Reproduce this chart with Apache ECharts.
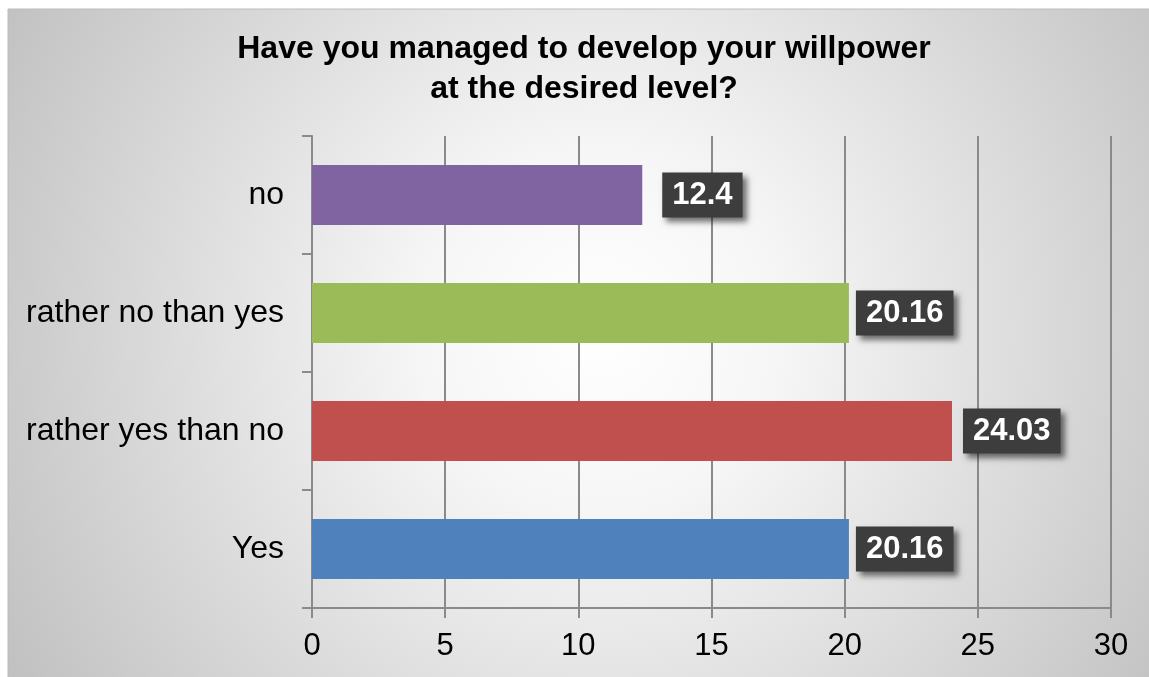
<!DOCTYPE html>
<html>
<head>
<meta charset="utf-8">
<script src="https://cdn.jsdelivr.net/npm/echarts@6/dist/echarts.min.js"></script>
<style>
html,body{margin:0;padding:0;background:#ffffff;}
#chart{width:1149px;height:677px;}
</style>
</head>
<body>
<div id="chart"></div>
<script>
const titleText = "Have you managed to develop your willpower\nat the desired level?";
const categories = ["Yes", "rather yes than no", "rather no than yes", "no"];
const values = [20.16, 24.03, 20.16, 12.4];
const barColors = ["#4F81BD", "#C0504D", "#9BBB59", "#8064A2"];
const xTicks = [0, 5, 10, 15, 20, 25, 30];

const FONT = "'Liberation Sans', Arial, sans-serif";
const labelGaps = [7, 11, 7, 20];
const chart = echarts.init(document.getElementById('chart'), null, {renderer: 'canvas'});

const option = {
  backgroundColor: '#ffffff',
  animation: false,
  graphic: [{
    type: 'rect',
    z: -10,
    silent: true,
    shape: {x: 8, y: 9, width: 1145, height: 672},
    style: {
      fill: {
        type: 'radial', x: 600, y: 330, r: 720, global: true,
        colorStops: [
          {offset: 0, color: '#ffffff'},
          {offset: 0.25, color: '#f6f6f6'},
          {offset: 1, color: '#bdbdbd'}
        ]
      },
      stroke: '#bcbcbc',
      lineWidth: 1
    }
  }],
  title: {
    text: titleText,
    left: 584,
    top: 29,
    textAlign: 'center',
    padding: 0,
    textStyle: {
      fontFamily: FONT,
      fontSize: 32,
      fontWeight: 'bold',
      color: '#000000',
      lineHeight: 40
    }
  },
  grid: {left: 312, right: 38, top: 136, bottom: 69, containLabel: false},
  xAxis: {
    type: 'value',
    min: xTicks[0],
    max: xTicks[xTicks.length - 1],
    interval: 5,
    axisLine: {show: true, lineStyle: {color: '#8a8a8a', width: 2}},
    axisTick: {show: true, length: 10, lineStyle: {color: '#8a8a8a', width: 2}},
    splitLine: {show: true, lineStyle: {color: '#8a8a8a', width: 2}},
    axisLabel: {
      fontFamily: FONT, fontSize: 31, color: '#000000', margin: 23
    }
  },
  yAxis: {
    type: 'category',
    data: categories,
    axisLine: {show: true, lineStyle: {color: '#8a8a8a', width: 2}},
    axisTick: {show: true, length: 10, lineStyle: {color: '#8a8a8a', width: 2}},
    splitLine: {show: false},
    axisLabel: {
      fontFamily: FONT, fontSize: 32, color: '#000000', margin: 28
    }
  },
  series: [{
    type: 'bar',
    barWidth: 60,
    data: values.map((v, i) => ({
      value: v,
      itemStyle: {color: barColors[i]},
      label: {distance: labelGaps[i]}
    })),
    label: {
      show: true,
      position: 'right',
      distance: 12,
      formatter: p => String(p.value),
      fontFamily: FONT,
      fontSize: 31,
      fontWeight: 'bold',
      color: '#ffffff',
      backgroundColor: '#3d3d3d',
      padding: [7, 10, 7, 10],
      shadowColor: 'rgba(0,0,0,0.55)',
      shadowBlur: 6,
      shadowOffsetX: 4,
      shadowOffsetY: 4
    }
  }]
};
chart.setOption(option);
</script>
</body>
</html>
